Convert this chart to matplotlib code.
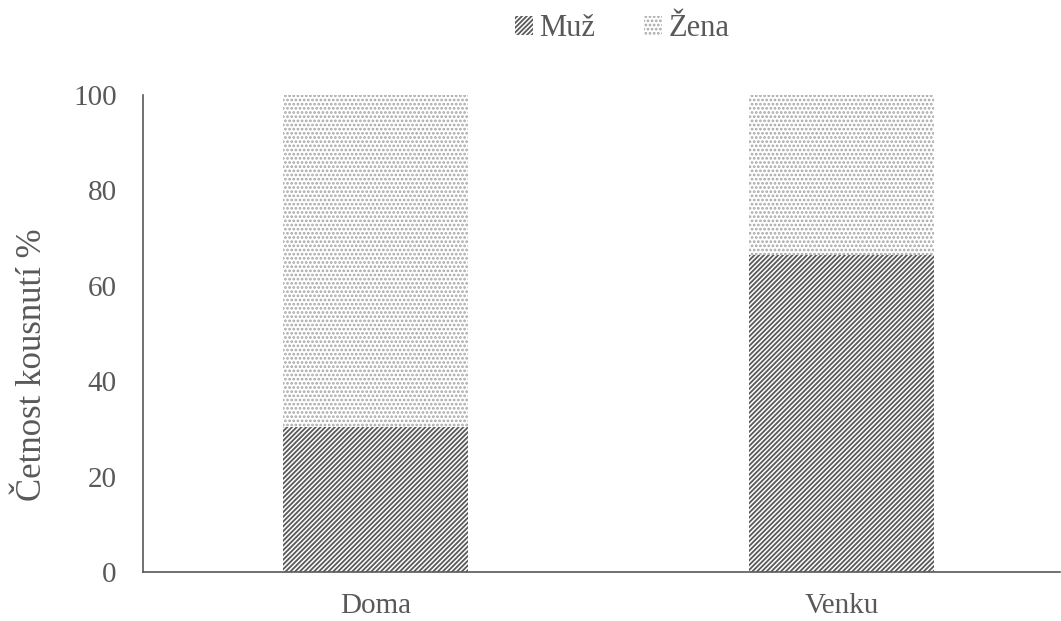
import matplotlib
matplotlib.use("Agg")
import matplotlib.pyplot as plt

plt.rcParams['font.family'] = ['Liberation Serif', 'DejaVu Serif']
plt.rcParams['hatch.linewidth'] = 1.3

kategorie = ["Doma", "Venku"]
muz = [30.5, 66.4]
zena = [69.5, 33.6]

seda = "#595959"

fig = plt.figure(figsize=(10.61, 6.21), dpi=100)
ax = fig.add_axes([143 / 1061, 1 - 572 / 621, (1060 - 143) / 1061, (572 - 95) / 621])

x = range(len(kategorie))
ax.bar(x, muz, width=0.397, color="white", edgecolor=seda, hatch="///////", linewidth=0, label="Muž")
ax.bar(x, zena, bottom=muz, width=0.397, color="white", edgecolor="#a6a6a6", hatch="....", linewidth=0, label="Žena")

ax.set_xlim(-0.5, 1.469)
ax.set_ylim(0, 100)
ax.set_yticks([0, 20, 40, 60, 80, 100])
ax.set_xticks(list(x))
ax.set_xticklabels(kategorie)
ax.tick_params(axis="both", colors=seda, labelsize=21, length=0)
ax.tick_params(axis="x", pad=15)
ax.tick_params(axis="y", pad=19)

for s in ["top", "right"]:
    ax.spines[s].set_visible(False)
ax.spines["left"].set_color(seda)
ax.spines["bottom"].set_color(seda)
ax.spines["left"].set_linewidth(1.2)
ax.spines["bottom"].set_linewidth(1.2)

ax.set_ylabel("Četnost kousnutí %", fontsize=25, color=seda)
ax.yaxis.set_label_coords(-0.1025, 0.434)

fig.legend(loc="center", bbox_to_anchor=(622 / 1061, 1 - 29 / 621), ncol=2, frameon=False,
           fontsize=22, labelcolor=seda, handlelength=0.6, handleheight=0.6,
           handletextpad=0.2, columnspacing=1.6)

fig.savefig("out.png", dpi=100)
